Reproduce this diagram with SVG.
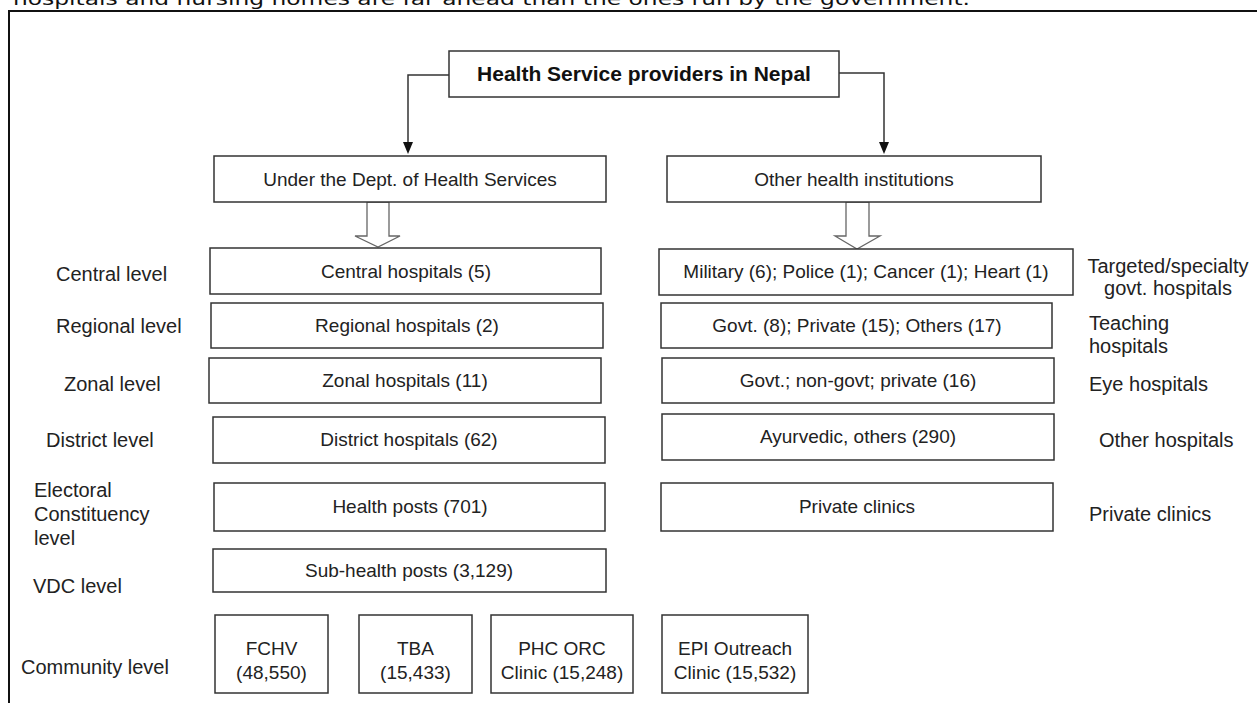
<svg xmlns="http://www.w3.org/2000/svg" width="1257" height="703" viewBox="0 0 1257 703">
<defs>
<style>
.bx{fill:#fff;stroke:#333;stroke-width:1.5}
.t{font-family:"Liberation Sans",Arial,sans-serif;font-size:19px;fill:#222;text-anchor:middle}
.lb{font-family:"Liberation Sans",Arial,sans-serif;font-size:20px;fill:#222}
.ti{font-family:"Liberation Sans",Arial,sans-serif;font-size:21px;font-weight:bold;fill:#111;text-anchor:middle}
.cn{fill:none;stroke:#333;stroke-width:1.5}
.ha{fill:#fff;stroke:#666;stroke-width:1.3}
</style>
<marker id="ah" markerUnits="userSpaceOnUse" markerWidth="12" markerHeight="14" refX="5" refY="12" orient="auto-start-reverse" viewBox="0 0 10 12">
<path d="M0,0 L10,0 L5,12 Z" fill="#111"/>
</marker>
</defs>
<rect width="1257" height="703" fill="#fff"/>
<text x="13" y="5" font-family="'DejaVu Sans',Verdana,sans-serif" font-size="17" fill="#111" textLength="957" lengthAdjust="spacingAndGlyphs">hospitals and nursing homes are far ahead than the ones run by the government.</text>
<rect x="9" y="11" width="1270" height="720" fill="none" stroke="#111" stroke-width="2"/>

<g id="connectors">
<path class="cn" d="M449,75 H408 V142"/>
<path d="M403,142 L413,142 L408,154 Z" fill="#111"/>
<path class="cn" d="M839,73 H884 V142"/>
<path d="M879,142 L889,142 L884,154 Z" fill="#111"/>
<polygon class="ha" points="367,202 389,202 389,236 400,236 378,247 355,236 367,236"/>
<polygon class="ha" points="846,202 869,202 869,236 880,236 857,249 835,236 846,236"/>
</g>

<g id="n-title"><rect class="bx" x="449" y="51" width="390" height="46"/><text class="ti" x="644" y="81">Health Service providers in Nepal</text></g>
<g id="n-dhs"><rect class="bx" x="214" y="156" width="392" height="46"/><text class="t" x="410" y="186">Under the Dept. of Health Services</text></g>
<g id="n-other"><rect class="bx" x="667" y="156" width="374" height="46"/><text class="t" x="854" y="186">Other health institutions</text></g>

<g id="n-central"><rect class="bx" x="210" y="248" width="391" height="46"/><text class="t" x="406" y="278">Central hospitals (5)</text></g>
<g id="n-regional"><rect class="bx" x="211" y="303" width="392" height="45"/><text class="t" x="407" y="332">Regional hospitals (2)</text></g>
<g id="n-zonal"><rect class="bx" x="209" y="358" width="392" height="45"/><text class="t" x="405" y="387">Zonal hospitals (11)</text></g>
<g id="n-district"><rect class="bx" x="213" y="417" width="392" height="46"/><text class="t" x="409" y="446">District hospitals (62)</text></g>
<g id="n-hp"><rect class="bx" x="214" y="483" width="391" height="48"/><text class="t" x="410" y="513">Health posts (701)</text></g>
<g id="n-shp"><rect class="bx" x="213" y="549" width="393" height="43"/><text class="t" x="409" y="577">Sub-health posts (3,129)</text></g>

<g id="n-military"><rect class="bx" x="659" y="249" width="414" height="46"/><text class="t" x="866" y="278">Military (6); Police (1); Cancer (1); Heart (1)</text></g>
<g id="n-teaching"><rect class="bx" x="661" y="303" width="391" height="45"/><text class="t" x="857" y="332">Govt. (8); Private (15); Others (17)</text></g>
<g id="n-eye"><rect class="bx" x="662" y="358" width="392" height="45"/><text class="t" x="858" y="387">Govt.; non-govt; private (16)</text></g>
<g id="n-ayur"><rect class="bx" x="662" y="414" width="392" height="46"/><text class="t" x="858" y="443">Ayurvedic, others (290)</text></g>
<g id="n-pc"><rect class="bx" x="661" y="483" width="392" height="48"/><text class="t" x="857" y="513">Private clinics</text></g>

<g id="n-fchv"><rect class="bx" x="215" y="615" width="113" height="78"/><text class="t" x="271.5" y="655">FCHV</text><text class="t" x="271.5" y="679">(48,550)</text></g>
<g id="n-tba"><rect class="bx" x="359" y="615" width="113" height="78"/><text class="t" x="415.5" y="655">TBA</text><text class="t" x="415.5" y="679">(15,433)</text></g>
<g id="n-phc"><rect class="bx" x="491" y="615" width="142" height="78"/><text class="t" x="562" y="655">PHC ORC</text><text class="t" x="562" y="679">Clinic (15,248)</text></g>
<g id="n-epi"><rect class="bx" x="662" y="615" width="146" height="78"/><text class="t" x="735" y="655">EPI Outreach</text><text class="t" x="735" y="679">Clinic (15,532)</text></g>

<g id="labels-left">
<text class="lb" x="56" y="281">Central level</text>
<text class="lb" x="56" y="333">Regional level</text>
<text class="lb" x="64" y="391">Zonal level</text>
<text class="lb" x="46" y="447">District level</text>
<text class="lb" x="34" y="497">Electoral</text>
<text class="lb" x="34" y="521">Constituency</text>
<text class="lb" x="34" y="545">level</text>
<text class="lb" x="33" y="593">VDC level</text>
<text class="lb" x="21" y="674">Community level</text>
</g>
<g id="labels-right">
<text class="lb" x="1168" y="273" text-anchor="middle">Targeted/specialty</text>
<text class="lb" x="1168" y="295" text-anchor="middle">govt. hospitals</text>
<text class="lb" x="1089" y="330">Teaching</text>
<text class="lb" x="1089" y="353">hospitals</text>
<text class="lb" x="1089" y="391">Eye hospitals</text>
<text class="lb" x="1099" y="447">Other hospitals</text>
<text class="lb" x="1089" y="521">Private clinics</text>
</g>
</svg>
